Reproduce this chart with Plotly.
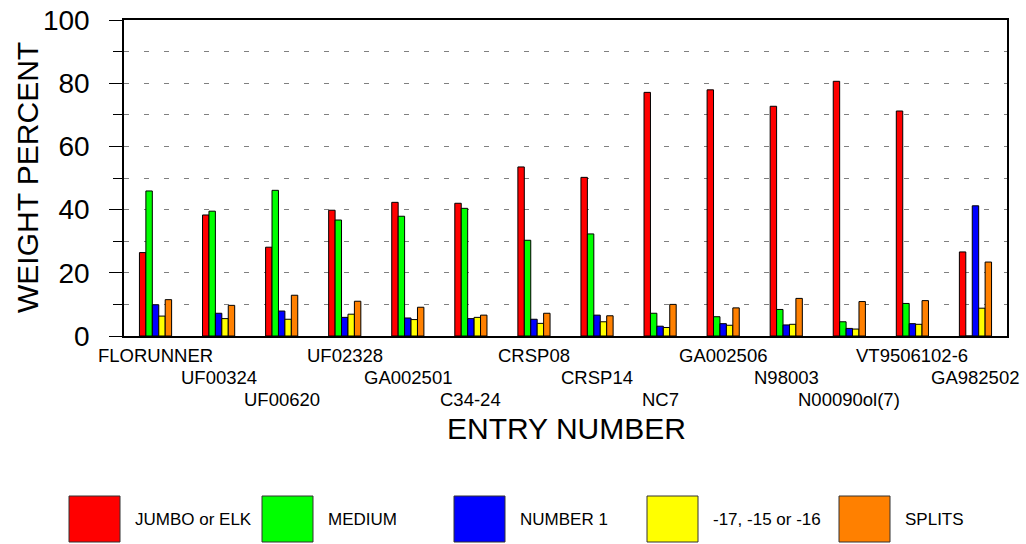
import plotly.graph_objects as go

categories = ["FLORUNNER", "UF00324", "UF00620", "UF02328", "GA002501", "C34-24",
              "CRSP08", "CRSP14", "NC7", "GA002506", "N98003", "N00090ol(7)",
              "VT9506102-6", "GA982502"]

jumbo = [26.4, 38.3, 28.1, 39.8, 42.3, 42.0, 53.5, 50.2, 77.1, 77.9, 72.7, 80.6, 71.2, 26.6]
medium = [45.9, 39.5, 46.1, 36.7, 37.9, 40.4, 30.3, 32.3, 7.2, 6.1, 8.4, 4.5, 10.3, 0.0]
number1 = [9.9, 7.2, 7.9, 5.9, 5.7, 5.5, 5.3, 6.6, 3.1, 3.9, 3.5, 2.4, 3.9, 41.2]
small = [6.3, 5.5, 5.3, 6.9, 5.2, 5.9, 4.0, 4.5, 2.7, 3.4, 3.7, 2.2, 3.7, 8.8]
splits = [11.5, 9.7, 12.9, 11.0, 9.1, 6.6, 7.2, 6.4, 10.0, 8.9, 11.9, 10.9, 11.2, 23.4]

series_names = ["JUMBO or ELK", "MEDIUM", "NUMBER 1", "-17, -15 or -16", "SPLITS"]
series_values = [jumbo, medium, number1, small, splits]
series_colors = ["#FF0000", "#00FF00", "#0000FF", "#FFFF00", "#FF8000"]

y_ticks = [0, 20, 40, 60, 80, 100]

FONT = "Liberation Sans, Arial, sans-serif"
W, H = 1026, 544
# plot area in page pixels
L, R, T, B = 124, 1007, 20, 336
pw, ph = R - L, B - T

def px_x(px):
    return (px - L) / pw

def px_y(py):
    return (B - py) / ph

fig = go.Figure()
for name, vals, col in zip(series_names, series_values, series_colors):
    fig.add_trace(go.Bar(
        x=categories, y=vals, name=name,
        marker=dict(color=col, line=dict(color="black", width=1)),
        showlegend=False,
    ))

annotations = []
# staggered category labels (3 rows)
row_offsets = [19, 41.5, 63.5]
for i, cat in enumerate(categories):
    annotations.append(dict(
        x=cat, xref="x", y=0, yref="paper", yanchor="middle", xanchor="center",
        yshift=-row_offsets[i % 3], text=cat, showarrow=False,
        font=dict(family=FONT, size=18.5, color="black"),
    ))

# axis titles
annotations.append(dict(
    x=px_x(566), xref="paper", y=px_y(428), yref="paper", text="ENTRY NUMBER",
    showarrow=False, xanchor="center", yanchor="middle",
    font=dict(family=FONT, size=30, color="black"),
))
annotations.append(dict(
    x=px_x(27), xref="paper", y=px_y(178), yref="paper", text="WEIGHT PERCENT",
    showarrow=False, xanchor="center", yanchor="middle", textangle=-90,
    font=dict(family=FONT, size=30, color="black"),
))

# custom legend
shapes = []
box_lefts = [69, 262, 454, 647, 839]
for name, col, bx in zip(series_names, series_colors, box_lefts):
    shapes.append(dict(
        type="rect", xref="paper", yref="paper",
        x0=px_x(bx), x1=px_x(bx + 51), y0=px_y(542), y1=px_y(496),
        fillcolor=col, line=dict(color="#333333", width=1),
    ))
    annotations.append(dict(
        x=px_x(bx + 64), xref="paper", y=px_y(519), yref="paper", text=name,
        showarrow=False, xanchor="left", yanchor="middle",
        font=dict(family=FONT, size=17, color="black"),
    ))

fig.update_layout(
    width=W, height=H,
    margin=dict(l=L, r=W - R, t=T, b=H - B, pad=0),
    plot_bgcolor="white", paper_bgcolor="white",
    barmode="group", bargap=0.49, bargroupgap=0,
    font=dict(family=FONT, color="black"),
    annotations=annotations, shapes=shapes,
    xaxis=dict(
        range=[-0.5, len(categories) - 0.5], automargin=False,
        showticklabels=False, ticks="", showgrid=False,
        showline=True, linecolor="black", linewidth=1.5, mirror=True,
        zeroline=False,
    ),
    yaxis=dict(
        range=[0, 100], automargin=False,
        tickvals=y_ticks, ticktext=[str(v) for v in y_ticks],
        ticks="outside", ticklen=13, tickcolor="black", tickwidth=1,
        ticklabelstandoff=14, ticklabeloverflow="allow",
        tickfont=dict(family=FONT, size=28, color="black"),
        showgrid=True, gridcolor="#808080", griddash="5px,15px", gridwidth=1,
        showline=True, linecolor="black", linewidth=1.5, mirror=True,
        zeroline=False,
        minor=dict(dtick=10, ticks="outside", ticklen=9, tickcolor="black",
                   showgrid=True, gridcolor="#808080", griddash="5px,15px"),
    ),
)

fig.write_html("out.html",
               config={"displayModeBar": False},
               post_script="document.body.style.margin='0px';document.body.style.overflow='hidden';")
